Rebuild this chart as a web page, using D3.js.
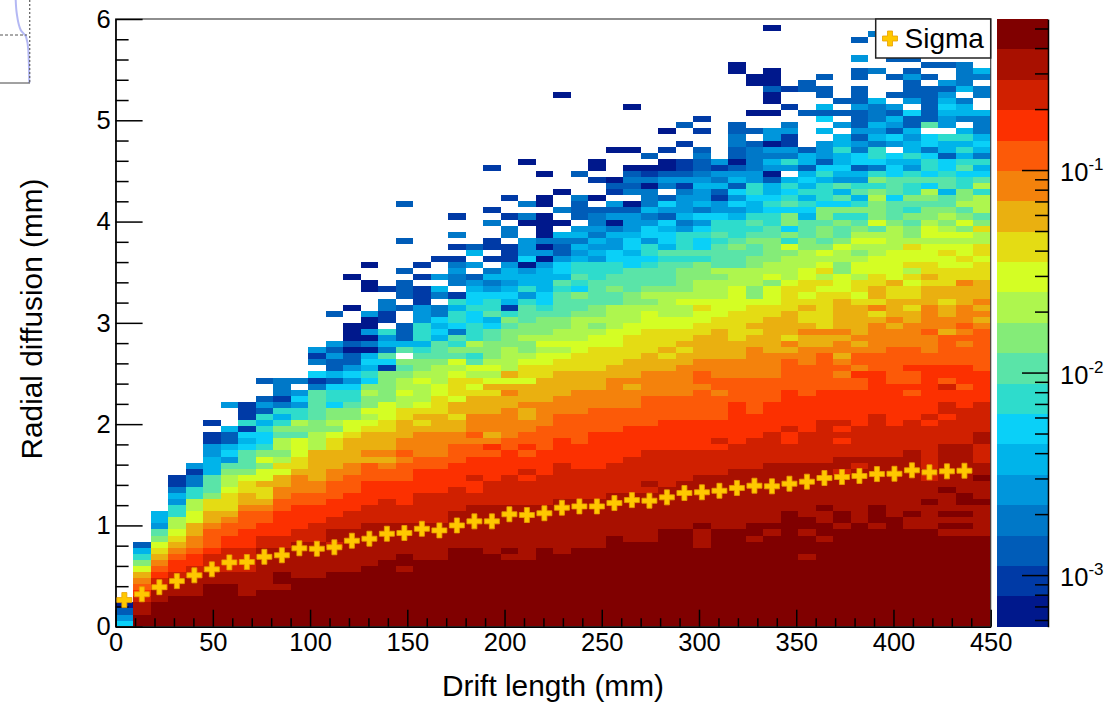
<!DOCTYPE html>
<html>
<head>
<meta charset="utf-8">
<script src="https://cdn.jsdelivr.net/npm/d3@7"></script>
<style>
body { margin: 0; background: #fff; }
svg { display: block; font-family: "Liberation Sans", Arial, sans-serif; }
.axis path, .axis line { stroke: #000; stroke-width: 1.5; }
.axis text { font-size: 25.5px; fill: #000; font-family: "Liberation Sans", Arial, sans-serif; }
.title { font-size: 29.8px; fill: #000; }
</style>
</head>
<body>
<div id="chart"></div>
<script>
// one string per drift length bin, bottom to top. a-t = colour level, . = empty, number = repeat
var hist_cols = [
	"geca",
	"t2s2rqponljhfc",
	"t4s2r2qponmljief2",
	"t5s3rq2ponmlk2h2efdb2",
	"t5s3r2q2po2n2l2k2h2d2be",
	"t7s2r3qp3on2m2ji3f3e2b2.b",
	"t7s2r4q2p2onm3lk2jiegfc2f.3e",
	"t5s4r4q3p3on2m2lji3gfgbhb3",
	"t6s7r2q2p2onm2nl2jljhg2hfhcec.2c",
	"t6st2s4r2q4p2o2n2lmkjk2ijhfhdbd3",
	"t8s6r2q4p2o3nm2l3ijkh2ege.d",
	"t8s6r3q3p2o2n5k3j2i5dbg.dbe",
	"t9s4rs2r2q3p3o2n3m2ljkj2gh2gcfc2ece.4c",
	"t9s7r3q3p3o2n4ml2j2ih2gegec2aca3.2a.4a",
	"t10s7r3q4p3non3mlklj2kjghfgfadaea2e.3a2.2a",
	"t11s6r4q3p2onon3m2l3j5bgidfeh.b2d2.b",
	"t9st2s5r3q4p3opo2n3m2k2lk2jij.ifc3.2c.c3.c.4c.5c",
	"t11s6r5q4p2o4nmnmlk3lkj2ihfh3e3b3.b.b",
	"t11s6r5q4p2o4n3m3l2k3ji3fgfgd2.df.e.2b",
	"t13s6r4q4p3o2n2mn2lm3lklijhidgh2fhb.d2edb.b.d.2b",
	"t13s7r2q2rq3p2opo3n3mlmklihjkh3g2hg2fec.e.fc",
	"t12s8r4q4pqono3n3mnlklkj3i2gfih2gedfd.b.b2.2d.b.6b",
	"t11sts7r5q4p2o5n2onlnk4j3ijhbfgfef2eb3.d2.b.2b",
	"t11s9r4qrq2pqp2o2n2on3lm2lkj2kj2i3hehf2eage3.2ad.d.6a",
	"t13s7r5q4p4o4n4m2l2klkj3ihg2f4eaeada4.a2.3a",
	"t12s9r6q4p4o3n4m2lklk2j2i4hifg2ec2df.a.d.2a.15a",
	"t13s8r5q4p5o4n3m3l2k4ji2jghih2fefdfe.c3d.3c",
	"t13s8r5q6p4o3n3m4l2kjkj2i4h3efefded2c.a.2b.a2",
	"t15s7r5q5p4o5n2m3l3k4i2ji2h2g2e2fdaece.bca.4a",
	"t14s8r6q5p3o3nonn2m4l2k3j2i4g2fg2fe3ca.dcdca.2a.6a",
	"t14s8rsr5q4p5o4n3m4l3kjkji3hgh2eg2edfd3adba.c",
	"t16s7r6q5p4o4n2mnm3l2k4ji4hifg2fgcegc.deca2.b.2a",
	"t16s8r5q5p4o5n2mnm2l2k2lkj4ihih3edfe3dbecb2.2b.2c",
	"t13s3ts8r4q5p5op2o2n4m2l2mlk3j3hig2hgegdfe2fedc2dc.2b.b",
	"t16s9r4qrq3p4op2o3n5m2l3k3jki4hih2ge2bcfdebe",
	"t16s10r4q7p4o3n3m5l4k3i3jih3fegegcfecac2d2c2.8a2",
	"t14st2s9r5q4p6o5n2mnm3lj2k3j2i2jihihf2gh2e2d4c.c.2a.4a2",
	"t15sts10r5q5p4o4n6m2l3jlk2j4i2h2ghgf2caefdeae2.2a.a2ca3.6a",
	"t19s8r3q2rq6p5onomn4m4lk4jlhjgj2gihghf.ehdeb2ed.2b.2b",
	"t11st3st2s9r5q6p5o3n2onm2nmlm2l2k3j2i3fghfhfgfcf2c.5c.3c2",
	"t14st2s2ts7r7q5p6on2om6lmkmlkljij2ij2gh3fhgce3.f.gcf.c2.c",
	"t16st2s6rs2r2qrqrq5p2opono2non5ml3j2k2lji2jhjgifiefgf2hf2.e.c.c",
	"t17s9rsr5q6p2qop2onon5mlm2kl2kjklkjihjhfihefcg2decec3ec3.c2.e.2c",
	"t16st3s8r7q7p3o5nmomn2m2l3k2lkilj3kjhjhdgh2dfefd3f.4d.5d",
	"t18s10r5q7p6o3non3m2nl5k4ji3gi3g2fg.egcefce.c.2c.2c",
	"t16s2ts10r5q4pqp2qp3o4n2mnm2lmkml2mkj2ijhijh2ihefhf2efc2g.ec3ec.c",
	"t16s4ts3rsr7qrq8p2o3po4n3mnm2l3kl2kj2ijkgigh2gdg2.ic6.c.c",
	"t15ststs3ts7r4qr2q2rpq2p5no2n2mn2m3l2mlklkjkji2fi2hg2cf2h.e2fgfece.2c",
	"t15ststst2s8r6q3pq3p3opopo3n3om2lml2kljljikj2h2gihfhfhf.df2d.fd4",
	"t15s5ts3ts2r3s2r5q5p7ononon3m3lm2k2mjik3hkigfhdfgfd3f.2d2.df"
];

var level_names = "abcdefghijklmnopqrst".split("");
var palette = ["#00188c", "#003aa6", "#005cb8", "#0078c8", "#0096dc", "#00b4ea", "#0ad0f8", "#2edccc", "#5ae4a8", "#84ec78",
	"#aef64e", "#d4fe24", "#e4dc14", "#eab010", "#f4820c", "#fc5a08", "#fc3000", "#d02000", "#a81000", "#800000"];

// sigma per bin, mm
var sigma = [0.263, 0.32, 0.39, 0.45, 0.507, 0.566, 0.635, 0.639, 0.69, 0.705, 0.774, 0.77, 0.784, 0.849, 0.869, 0.918, 0.925,
	0.967, 0.951, 1.0, 1.04, 1.04, 1.11, 1.103, 1.12, 1.175, 1.188, 1.188, 1.221, 1.25, 1.244, 1.277, 1.32, 1.327, 1.342, 1.37,
	1.392, 1.386, 1.412, 1.432, 1.468, 1.478, 1.488, 1.507, 1.51, 1.544, 1.524, 1.534, 1.54];

var x_major = [0, 50, 100, 150, 200, 250, 300, 350, 400, 450];
var y_major = [0, 1, 2, 3, 4, 5, 6];
var z_major = [0.001, 0.01, 0.1];
var z_minor = [0.0006, 0.0007, 0.0008, 0.0009, 0.002, 0.003, 0.004, 0.005, 0.006, 0.007, 0.008, 0.009,
	0.02, 0.03, 0.04, 0.05, 0.06, 0.07, 0.08, 0.09, 0.2, 0.3, 0.4, 0.5];

// corner of the neighbouring plot that was caught in the crop
var scrap_curve = [[15.7, 0], [16.7, 13], [20.7, 30], [26, 36.7], [28.3, 50], [29.3, 83]];
var scrap_dash = [[0, 35], [27, 35]];
var scrap_dot = [[29.7, 0], [29.7, 83]];
var scrap_base = [[0, 83], [30, 83]];

var bin_x = 9, bin_y = 0.06;

var width = 1107, height = 703,
	left = 115.6, right = 990.7, top_y = 19, bottom_y = 626.7,
	bar_left = 997, bar_right = 1048;

var svg = d3.select("#chart").append("svg")
		.attr("width", width)
		.attr("height", height);

var x = d3.scaleLinear().domain([0, 450]).range([left, right]);
var y = d3.scaleLinear().domain([0, 6]).range([bottom_y, top_y]);
var z = d3.scaleLog().domain([5.56e-4, 0.557]).range([bottom_y, top_y]);
var band = d3.scaleLinear().domain([0, level_names.length]).range([bottom_y, top_y]);
var color = d3.scaleOrdinal().domain(level_names).range(palette);

var cells = [];
hist_cols.forEach(function(str, col){
	var row = 0;
	str.replace(/([a-t.])(\d*)/g, function(m, ch, n){
		var count = n === "" ? 1 : +n;
		for (var i = 0; i < count; i++){
			if (ch != ".") cells.push({col: col, row: row, level: ch});
			row++;
		}
	});
});

svg.append("g").selectAll("rect")
		.data(cells)
	.enter().append("rect")
		.attr("x", function(d){ return x(d.col * bin_x); })
		.attr("width", function(d){ return x((d.col + 1) * bin_x) - x(d.col * bin_x); })
		.attr("y", function(d){ return y((d.row + 1) * bin_y); })
		.attr("height", function(d){ return y(d.row * bin_y) - y((d.row + 1) * bin_y); })
		.attr("fill", function(d){ return color(d.level); })
		.attr("shape-rendering", "crispEdges");

// frame
svg.append("rect")
		.attr("x", left)
		.attr("y", top_y)
		.attr("width", right - left)
		.attr("height", bottom_y - top_y)
		.attr("fill", "none")
		.attr("stroke", "#444")
		.attr("stroke-width", 1.2);

// x axis
svg.append("g")
		.attr("class", "axis")
		.attr("transform", "translate(0," + bottom_y + ")")
		.call(d3.axisBottom(x).tickValues(d3.range(0, 451, 10).filter(function(d){ return d % 50 != 0; })).tickSize(-8.5).tickFormat(""))
		.select(".domain").remove();

svg.append("g")
		.attr("class", "axis")
		.attr("transform", "translate(0," + bottom_y + ")")
		.call(d3.axisBottom(x).tickValues(x_major).tickSizeInner(-17).tickSizeOuter(0).tickPadding(6));

// y axis
svg.append("g")
		.attr("class", "axis")
		.attr("transform", "translate(" + left + ",0)")
		.call(d3.axisLeft(y).tickValues(d3.range(0, 6.01, 0.2).filter(function(d){ return Math.abs(d - Math.round(d)) > 0.01; })).tickSize(-13).tickFormat(""))
		.select(".domain").remove();

svg.append("g")
		.attr("class", "axis")
		.attr("transform", "translate(" + left + ",0)")
		.call(d3.axisLeft(y).tickValues(y_major).tickFormat(d3.format("d")).tickSizeInner(-27).tickSizeOuter(0).tickPadding(5));

svg.append("text")
		.attr("class", "title")
		.attr("x", 553)
		.attr("y", 696)
		.attr("text-anchor", "middle")
		.text("Drift length (mm)");

svg.append("text")
		.attr("class", "title")
		.attr("transform", "translate(42,319) rotate(-90)")
		.attr("text-anchor", "middle")
		.text("Radial diffusion (mm)");

// palette on the right
svg.append("g").selectAll("rect")
		.data(level_names)
	.enter().append("rect")
		.attr("x", bar_left)
		.attr("width", bar_right - bar_left)
		.attr("y", function(d, i){ return band(i + 1); })
		.attr("height", function(d, i){ return band(i) - band(i + 1); })
		.attr("fill", function(d){ return color(d); })
		.attr("shape-rendering", "crispEdges");

svg.append("g")
		.attr("class", "axis")
		.attr("transform", "translate(" + bar_right + ",0)")
		.call(d3.axisRight(z).tickValues(z_minor).tickSize(-13).tickFormat(""))
		.select(".domain").remove();

var z_axis = svg.append("g")
		.attr("class", "axis")
		.attr("transform", "translate(" + bar_right + ",0)")
		.call(d3.axisRight(z).tickValues(z_major).tickSizeInner(-26).tickSizeOuter(0).tickFormat(""));

var z_label = z_axis.selectAll(".tick").append("text")
		.attr("x", 12)
		.attr("y", 10.5)
		.attr("text-anchor", "start");

z_label.append("tspan")
		.text("10");

z_label.append("tspan")
		.attr("dy", -11)
		.attr("font-size", 17)
		.text(function(d){ return Math.round(Math.log10(d)); });

// sigma points
var cross = d3.symbol().type(d3.symbolCross).size(125);

svg.append("g").selectAll("path")
		.data(sigma)
	.enter().append("path")
		.attr("d", cross)
		.attr("transform", function(d, i){ return "translate(" + x((i + 0.5) * bin_x) + "," + y(d) + ")"; })
		.attr("fill", "#ffc800")
		.attr("stroke", "#e8a000")
		.attr("stroke-width", 0.8);

// legend
svg.append("rect")
		.attr("x", 875.7)
		.attr("y", 19)
		.attr("width", 115)
		.attr("height", 39)
		.attr("fill", "#fff")
		.attr("stroke", "#222")
		.attr("stroke-width", 1.5);

svg.append("path")
		.attr("d", cross)
		.attr("transform", "translate(890,38.5)")
		.attr("fill", "#ffc800")
		.attr("stroke", "#e8a000")
		.attr("stroke-width", 0.8);

svg.append("text")
		.attr("x", 904.5)
		.attr("y", 47.5)
		.attr("font-size", 28)
		.text("Sigma");

// scrap of the other plot, top left
var scrap_line = d3.line();

svg.append("path")
		.attr("d", d3.line().curve(d3.curveMonotoneY)(scrap_curve))
		.attr("fill", "none")
		.attr("stroke", "#b4b8f4")
		.attr("stroke-width", 2);

svg.append("path")
		.attr("d", scrap_line(scrap_dash))
		.attr("fill", "none")
		.attr("stroke", "#555")
		.attr("stroke-dasharray", "3,2");

svg.append("path")
		.attr("d", scrap_line(scrap_dot))
		.attr("fill", "none")
		.attr("stroke", "#666")
		.attr("stroke-width", 1.3)
		.attr("stroke-dasharray", "2,2");

svg.append("path")
		.attr("d", scrap_line(scrap_base))
		.attr("fill", "none")
		.attr("stroke", "#444");
</script>
</body>
</html>
